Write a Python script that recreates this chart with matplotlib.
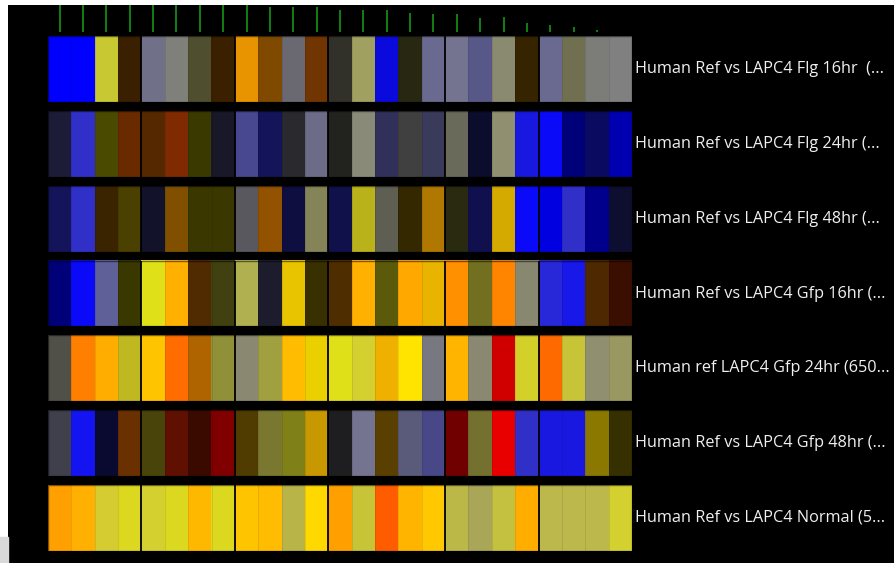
import matplotlib.pyplot as plt
import numpy as np
from matplotlib.colors import to_rgb
from matplotlib.patches import Rectangle

# row labels (right side)
labels = ['Human Ref vs LAPC4 Flg 16hr  (...',
          'Human Ref vs LAPC4 Flg 24hr (...',
          'Human Ref vs LAPC4 Flg 48hr (...',
          'Human Ref vs LAPC4 Gfp 16hr (...',
          'Human ref LAPC4 Gfp 24hr (650...',
          'Human Ref vs LAPC4 Gfp 48hr (...',
          'Human Ref vs LAPC4 Normal (5...']

# cell colours, one list per row (25 columns)
flg16 = ['#0000ff','#0000ff','#c8c832','#3a1f00','#707088','#80807a','#4f4f2f','#3b2000','#e89400','#7f4a00',
         '#6a6870','#703500','#31312a','#a0a060','#0a0add','#282812','#6a6a90','#747490','#585888','#8a8a70',
         '#362400','#6a6a90','#707050','#7c7c78','#808080']
flg24 = ['#1c1c38','#3030c8','#4a4a00','#6a2a00','#552800','#7f2a00','#3a3a00','#181828','#484890','#14145a',
         '#2a2a2e','#6c6c88','#22221e','#8a8a78','#30305a','#404040','#3a3a5a','#6a6a5a','#0c0c2c','#909070',
         '#1818e0','#0a0af8','#000078','#0a0a60','#0000b0']
flg48 = ['#14145a','#3030c8','#3a2400','#4a4000','#12122a','#805000','#3a3800','#3a3800','#58585e','#925200',
         '#0e0e40','#848458','#10104a','#bab21a','#5e5e52','#332800','#b07800','#2a2a10','#10104e','#d4aa00',
         '#0a0af8','#0000e0','#3030c8','#00008c','#0e0e30']
gfp16 = ['#000078','#0a0af8','#606098','#383800','#e0e018','#ffb000','#502a00','#404010','#b0b050','#1c1c2c',
         '#e8c400','#383000','#4e2e00','#ffb000','#5a5a0a','#ffa800','#e8b400','#ff9000','#727020','#ff8400',
         '#888870','#2828d8','#1818e8','#4e2800','#3a0e00']
gfp24 = ['#505048','#ff8000','#ffae00','#c0b820','#ffc400','#ff6c00','#b06400','#909038','#8a8870','#a0a040',
         '#ffbc00','#ead000','#e0e018','#d4d030','#f0b000','#ffe400','#787880','#ffb400','#8a8870','#d00000',
         '#d4d02a','#ff6a00','#c8c438','#909070','#989860']
gfp48 = ['#40404c','#1414f0','#0a0a30','#6a3000','#48440a','#601000','#3a0a00','#800000','#503c00','#7a7830',
         '#808018','#c89800','#1e1e20','#747490','#5a4000','#5a5a7a','#484888','#700000','#747030','#e80000',
         '#3030c8','#1818e0','#1818e0','#8a7800','#363000']
normal = ['#ffa000','#ffb000','#d4cc30','#dcd820','#d4d030','#dcd820','#ffb800','#dcd820','#ffc400','#ffbc00',
          '#b8b448','#ffd800','#ffa000','#c8c438','#ff5c00','#ffb400','#ffc800','#bcb848','#aaa658','#c4c040',
          '#ffae00','#bcb84c','#bcb84c','#bcb84c','#d4d030']
rows = [flg16, flg24, flg48, gfp16, gfp24, gfp48, normal]

# column groups and the green marks on top
block_edges = [0, 4, 8, 12, 17, 21, 25]
col_marks = [27, 27, 27, 27, 27, 27, 27, 27, 27, 25, 25, 25, 22, 22, 22, 19, 18, 18, 14, 15, 9, 7, 5, 2, 0]

W, H = 895, 563
fig = plt.figure(figsize=(W/100, H/100), dpi=100)
fig.patch.set_facecolor('white')

bg = fig.add_axes([8/W, 0, 1-8/W, 1-5/H])
bg.set_facecolor('black')
bg.set_xticks([]); bg.set_yticks([])
for s in bg.spines.values():
    s.set_visible(False)
fig.patches.append(Rectangle((0, 0), 8/W, 26/H, transform=fig.transFigure, color='#d9d9d9'))

ncol = len(flg16)
nrow = len(rows)
pad = 0.059

ax = fig.add_axes([48/W, 7.6/H, 584/W, 523.8/H])
ax.set_facecolor('black')
for i, row in enumerate(rows):
    rgb = np.array([[to_rgb(c) for c in row]])
    ax.imshow(rgb, extent=(0, ncol, i+1-pad, i+pad), aspect='auto', interpolation='nearest')
    ax.vlines(np.arange(1, ncol), i+pad, i+1-pad, colors=(0, 0, 0, 0.1), lw=0.6)
    ax.vlines(block_edges[1:-1], i+pad, i+1-pad, colors='black', lw=1.3)
    ax.add_patch(Rectangle((0, i+pad), ncol, 1-2*pad, fill=False, ec=(0, 0, 0, 0.5), lw=1))
    ax.annotate(labels[i], xy=(ncol, i+0.5), xytext=(2.5, 0), textcoords='offset points',
                va='center', ha='left', color='#f0f0f0', fontsize=11.7, family='Open Sans',
                annotation_clip=False)
ax.set_xlim(0, ncol)
ax.set_ylim(nrow, 0)
ax.axis('off')

tax = fig.add_axes([48/W, (H-32)/H, 584/W, 27/H])
tax.vlines(np.arange(ncol)+0.5, 0, col_marks, colors='#138a13', lw=1.3)
tax.set_xlim(0, ncol)
tax.set_ylim(0, 27)
tax.axis('off')

plt.savefig('out.png', dpi=100, facecolor=fig.get_facecolor())
